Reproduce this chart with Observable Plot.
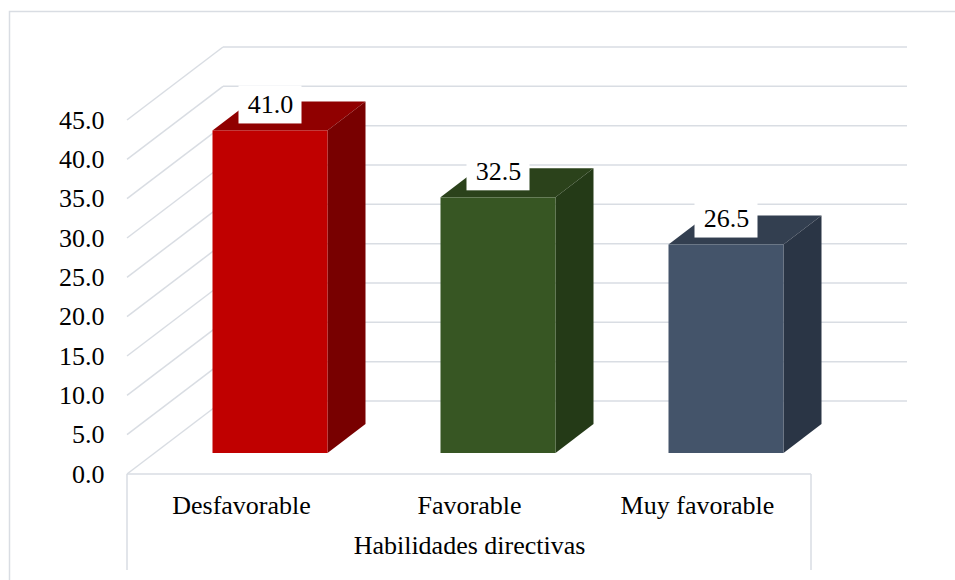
<!DOCTYPE html>
<html>
<head>
<meta charset="utf-8">
<script src="https://cdn.jsdelivr.net/npm/d3@7"></script>
<script src="https://cdn.jsdelivr.net/npm/@observablehq/plot@0.6"></script>
<style>
  html, body { margin: 0; padding: 0; background: #fff; }
  svg text { font-family: 'Liberation Serif', 'Times New Roman', serif; font-variant-numeric: normal; }
</style>
</head>
<body>
<div id="chart"></div>
<script>
// Data
const categories = ["Desfavorable", "Favorable", "Muy favorable"];
const values = [41.0, 32.5, 26.5];
const yTicks = [0, 5, 10, 15, 20, 25, 30, 35, 40, 45];
const axisTitle = "Habilidades directivas";

// Face shades per category: front, top, side
const frontColors = ["#c00000", "#375623", "#44546a"];
const topColors = ["#900000", "#2b421b", "#333f50"];
const sideColors = ["#780000", "#243a17", "#2a3545"];

const data = categories.map((category, i) => ({category, value: values[i]}));

// Pseudo-3D geometry (pixels)
const WALL = {dx: 96, dy: -73};                 // depth of the floor / side wall
const BAR = {dx: 29, dy: -21, depthX: 38, depthY: -29, width: 115};
const LABEL_BOX = {width: 63, height: 38, lift: 47};
const GRID = "#d9dde3";
const FONT = "'Liberation Serif', 'Times New Roman', serif";

const W = 955, H = 580;
const M = {left: 127, right: 144, top: 120, bottom: 106};
const step = (W - M.left - M.right) / categories.length;
const inset = (step - BAR.width) / 2;

const NS = "http://www.w3.org/2000/svg";
function el(tag, attrs) {
  const node = document.createElementNS(NS, tag);
  for (const k in attrs) node.setAttribute(k, attrs[k]);
  return node;
}
function seg(x1, y1, x2, y2) { return el("line", {x1, y1, x2, y2}); }
function poly(points, fill) {
  return el("polygon", {points: points.map(p => p.join(",")).join(" "), fill});
}

// Side wall, back wall and floor gridlines, chart frame
function walls(index, scales, values, dims) {
  const y = scales.y;
  const g = el("g", {stroke: GRID, "stroke-width": 1.5, fill: "none"});
  const x0 = dims.marginLeft, x1 = dims.width - dims.marginRight;
  g.append(el("rect", {x: 9.5, y: 11.5, width: dims.width + 20, height: dims.height + 20}));
  for (const t of yTicks) {
    const yy = y(t);
    g.append(seg(x0, yy, x0 + WALL.dx, yy + WALL.dy));
    g.append(seg(x0 + WALL.dx, yy + WALL.dy, x1 + WALL.dx, yy + WALL.dy));
  }
  const yb = y(0);
  g.append(seg(x0, yb, x1, yb));
  g.append(seg(x0, yb, x0, dims.height - 10));
  g.append(seg(x1, yb, x1, dims.height - 10));
  return g;
}

// Top and right faces of each column
function barFaces(index, scales) {
  const {x, y} = scales;
  const g = el("g", {});
  data.forEach((d, i) => {
    const left = x(d.category) + inset + BAR.dx;
    const right = left + BAR.width;
    const top = y(d.value) + BAR.dy;
    const bottom = y(0) + BAR.dy;
    g.append(poly([[left, top], [right, top], [right + BAR.depthX, top + BAR.depthY], [left + BAR.depthX, top + BAR.depthY]], topColors[i]));
    g.append(poly([[right, top], [right + BAR.depthX, top + BAR.depthY], [right + BAR.depthX, bottom + BAR.depthY], [right, bottom]], sideColors[i]));
  });
  return g;
}

// White boxes behind the value labels
function labelBoxes(index, scales) {
  const {x, y} = scales;
  const g = el("g", {fill: "#fff"});
  data.forEach(d => {
    const cx = x(d.category) + step / 2 + BAR.dx;
    const cy = y(d.value) - LABEL_BOX.lift;
    g.append(el("rect", {
      x: cx - LABEL_BOX.width / 2, y: cy - LABEL_BOX.height / 2,
      width: LABEL_BOX.width, height: LABEL_BOX.height
    }));
  });
  return g;
}

const chart = Plot.plot({
  width: W,
  height: H,
  marginLeft: M.left,
  marginRight: M.right,
  marginTop: M.top,
  marginBottom: M.bottom,
  style: {fontFamily: FONT, fontSize: "26px", color: "#000", background: "#fff", overflow: "visible"},
  x: {domain: categories, padding: 0, label: null},
  y: {domain: [0, 45], label: null},
  color: {domain: categories, range: frontColors},
  marks: [
    walls,
    barFaces,
    Plot.barY(data, {
      x: "category", y: "value", fill: "category",
      insetLeft: inset, insetRight: inset, dx: BAR.dx, dy: BAR.dy
    }),
    labelBoxes,
    Plot.text(data, {
      x: "category", y: "value", text: d => d.value.toFixed(1),
      dx: BAR.dx, dy: -LABEL_BOX.lift, fontSize: 26, fontFamily: FONT, fontVariant: "normal", fill: "#000"
    }),
    Plot.axisY({ticks: yTicks, tickSize: 0, tickPadding: 23, tickFormat: d => d.toFixed(1), fontSize: 26, fontFamily: FONT, fontVariant: "normal", label: null, fill: "#000"}),
    Plot.axisX({tickSize: 0, tickPadding: 21, fontSize: 26, fontFamily: FONT, label: null, fill: "#000"}),
    Plot.text([axisTitle], {frameAnchor: "bottom", dy: 79, fontSize: 26, fontFamily: FONT, fill: "#000"})
  ]
});

document.getElementById("chart").append(chart);
</script>
</body>
</html>
